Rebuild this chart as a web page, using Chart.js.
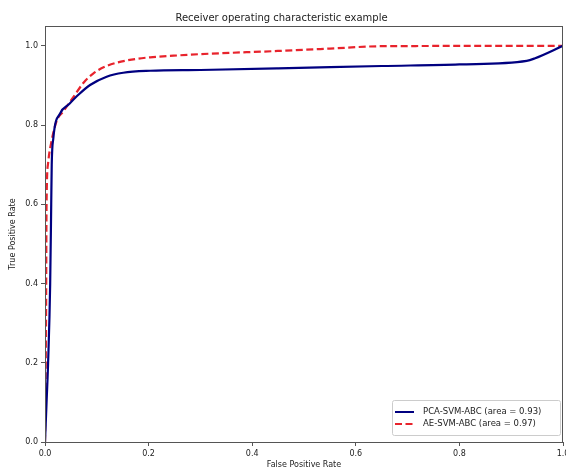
<!DOCTYPE html>
<html>
<head>
<meta charset="utf-8">
<script src="https://cdn.jsdelivr.net/npm/chart.js@4.4.0/dist/chart.umd.min.js"></script>
<style>
  html, body { margin: 0; padding: 0; background: #fff; }
  #wrap { width: 566px; height: 472px; }
</style>
</head>
<body>
<div id="wrap"><canvas id="myChart" width="566" height="472"></canvas></div>
<script>
// ROC curves
var fprPca = [0, 0.003, 0.006, 0.010, 0.012, 0.013, 0.016, 0.030, 0.045, 0.065, 0.087, 0.119, 0.151, 0.203, 0.30, 0.45, 0.65, 0.80, 0.93, 0.945, 1.0];
var tprPca = [0, 0.10, 0.20, 0.40, 0.60, 0.70, 0.766, 0.831, 0.851, 0.877, 0.901, 0.922, 0.932, 0.937, 0.939, 0.943, 0.949, 0.953, 0.962, 0.968, 1.0];
var fprAe = [0, 0.002, 0.003, 0.006, 0.013, 0.023, 0.035, 0.055, 0.074, 0.093, 0.119, 0.158, 0.203, 0.248, 0.30, 0.45, 0.55, 0.65, 1.0];
var tprAe = [0, 0.30, 0.60, 0.704, 0.762, 0.812, 0.834, 0.871, 0.906, 0.930, 0.949, 0.963, 0.971, 0.975, 0.979, 0.987, 0.993, 0.999, 1.0];
var seriesNames = ['PCA-SVM-ABC (area = 0.93)', 'AE-SVM-ABC (area = 0.97)'];
var tickValues = [0, 0.2, 0.4, 0.6, 0.8, 1.0];

var FONT = 'DejaVu Sans';
var txt = '#222';

function puntos(xs, ys) {
    var out = [];
    for (var i = 0; i < xs.length; i++) out.push({x: xs[i], y: ys[i]});
    return out;
}

// frame round the plot + legend in the lower right
var marco = {
    id: 'marco',
    afterDraw: function(chart) {
        var c = chart.ctx, a = chart.chartArea;
        c.save();
        c.strokeStyle = '#555';
        c.lineWidth = 1;
        c.strokeRect(a.left + 0.5, a.top + 0.5, a.right - a.left - 1, a.bottom - a.top);

        var bx = a.right - 171, by = a.bottom - 42, bw = 168, bh = 35;
        c.fillStyle = 'rgba(255,255,255,0.8)';
        c.strokeStyle = '#ccc';
        c.beginPath();
        c.roundRect(bx + 0.5, by + 0.5, bw, bh, 2);
        c.fill();
        c.stroke();

        var ds = chart.data.datasets;
        c.font = '8.5px ' + FONT;
        c.textBaseline = 'middle';
        c.textAlign = 'left';
        for (var i = 0; i < ds.length; i++) {
            var yy = by + 12 + i * 12;
            c.strokeStyle = ds[i].borderColor;
            c.lineWidth = 2;
            c.setLineDash(ds[i].borderDash || []);
            c.beginPath();
            c.moveTo(bx + 3, yy);
            c.lineTo(bx + 22, yy);
            c.stroke();
            c.setLineDash([]);
            c.fillStyle = txt;
            c.fillText(ds[i].label, bx + 31, yy);
        }
        c.restore();
    }
};

var ctx = document.getElementById('myChart').getContext('2d');
var myChart = new Chart(ctx, {
    type: 'scatter',
    data: {
        datasets: [{
            label: seriesNames[0],
            data: puntos(fprPca, tprPca),
            showLine: true,
            borderColor: '#000080',
            borderWidth: 2.2,
            pointRadius: 0,
            cubicInterpolationMode: 'monotone'
        }, {
            label: seriesNames[1],
            data: puntos(fprAe, tprAe),
            showLine: true,
            borderColor: '#e8232c',
            borderWidth: 2.2,
            borderDash: [7, 3.5],
            pointRadius: 0,
            cubicInterpolationMode: 'monotone'
        }]
    },
    options: {
        responsive: false,
        animation: false,
        layout: { padding: { left: 0, right: 3, top: 0, bottom: 0 } },
        plugins: {
            legend: { display: false },
            tooltip: { enabled: false },
            title: {
                display: true,
                text: 'Receiver operating characteristic example',
                color: txt,
                font: { family: FONT, size: 10, weight: 'normal' },
                padding: { top: 12, bottom: 2 }
            }
        },
        scales: {
            x: {
                type: 'linear',
                min: 0, max: 1,
                afterBuildTicks: function(s) { s.ticks = tickValues.map(function(v) { return {value: v}; }); },
                afterFit: function(s) { s.height = 30; s.paddingLeft = 0; s.paddingRight = 0; },
                border: { display: false },
                grid: { drawOnChartArea: false, drawTicks: true, tickLength: 4, color: '#555' },
                ticks: {
                    color: txt, padding: 3, maxRotation: 0,
                    font: { family: FONT, size: 8 },
                    callback: function(v) { return v.toFixed(1); }
                },
                title: {
                    display: true, text: 'False Positive Rate', color: txt,
                    font: { family: FONT, size: 8 },
                    padding: { top: 0, bottom: 2 }
                }
            },
            y: {
                type: 'linear',
                min: 0, max: 1.05,
                afterBuildTicks: function(s) { s.ticks = tickValues.map(function(v) { return {value: v}; }); },
                afterFit: function(s) { s.width = 45; s.paddingTop = 0; s.paddingBottom = 0; },
                border: { display: false },
                grid: { drawOnChartArea: false, drawTicks: true, tickLength: 4, color: '#555' },
                ticks: {
                    color: txt, padding: 3,
                    font: { family: FONT, size: 8 },
                    callback: function(v) { return v.toFixed(1); }
                },
                title: {
                    display: true, text: 'True Positive Rate', color: txt,
                    font: { family: FONT, size: 8 },
                    padding: { top: 8, bottom: 0 }
                }
            }
        }
    },
    plugins: [marco]
});
</script>
</body>
</html>
